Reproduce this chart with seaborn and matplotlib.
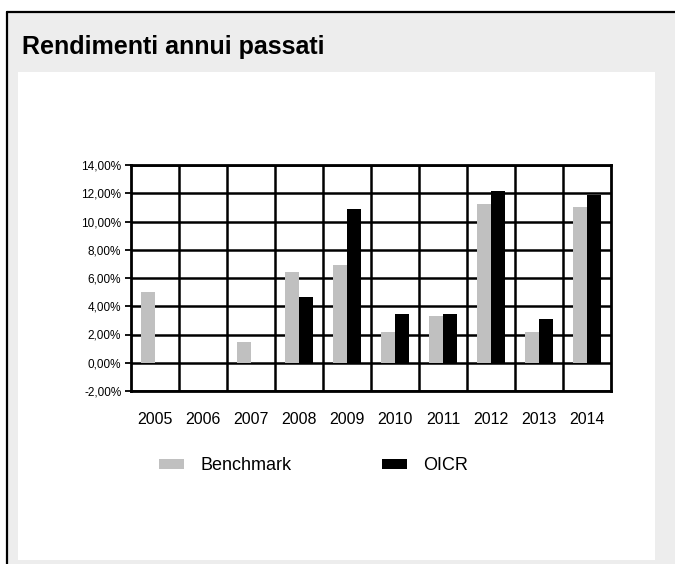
import matplotlib
matplotlib.use("Agg")
import matplotlib.pyplot as plt
from matplotlib.patches import Rectangle
from matplotlib.lines import Line2D
import seaborn as sns
import pandas as pd

years = ["2005", "2006", "2007", "2008", "2009", "2010", "2011", "2012", "2013", "2014"]
benchmark = [5.0, None, 1.5, 6.45, 6.92, 2.15, 3.31, 11.24, 2.15, 11.05]
oicr = [None, None, None, 4.63, 10.88, 3.45, 3.45, 12.18, 3.12, 11.9]
series_names = ["Benchmark", "OICR"]
y_ticks = [-2, 0, 2, 4, 6, 8, 10, 12, 14]
y_tick_labels = ["-2,00%", "0,00%", "2,00%", "4,00%", "6,00%", "8,00%", "10,00%", "12,00%", "14,00%"]
title = "Rendimenti annui passati"

rows = []
for y, b, o in zip(years, benchmark, oicr):
    rows.append({"Anno": y, "Serie": series_names[0], "Valore": b})
    rows.append({"Anno": y, "Serie": series_names[1], "Valore": o})
df = pd.DataFrame(rows)

sns.set_theme(style="white")
plt.rcParams["font.family"] = ["Liberation Sans", "DejaVu Sans"]
plt.rcParams["text.color"] = "black"
plt.rcParams["xtick.color"] = "black"
plt.rcParams["ytick.color"] = "black"
plt.rcParams["xtick.labelcolor"] = "black"
plt.rcParams["ytick.labelcolor"] = "black"

W, H = 675, 564
fig = plt.figure(figsize=(W / 100, H / 100), dpi=100, facecolor="white")

def fx(px):
    return px / W

def fy(py):
    return 1 - py / H

# grey panel with top/left border
fig.patches.append(Rectangle((fx(7), 0), 1 - fx(7), fy(12), transform=fig.transFigure,
                             facecolor="#EDEDED", edgecolor="none", zorder=-3))
fig.patches.append(Rectangle((fx(18), fy(560)), fx(655) - fx(18), fy(72) - fy(560),
                             transform=fig.transFigure, facecolor="white", edgecolor="none", zorder=-2))
fig.lines.append(Line2D([fx(7), 1], [fy(12), fy(12)], transform=fig.transFigure, color="black", lw=1.6, zorder=-1))
fig.lines.append(Line2D([fx(7), fx(7)], [fy(12), 0], transform=fig.transFigure, color="black", lw=1.6, zorder=-1))

fig.text(fx(22), fy(54), title, fontsize=18, fontweight="bold", ha="left", va="baseline", color="black")

ax = fig.add_axes([fx(131), fy(391), fx(611) - fx(131), fy(165) - fy(391)])
ax.set_facecolor("white")
sns.barplot(data=df, x="Anno", y="Valore", hue="Serie", order=years, hue_order=series_names,
            palette=["#C0C0C0", "#000000"], width=0.6, gap=0, linewidth=0, saturation=1,
            ax=ax, zorder=3)

ax.set_xlim(-0.5, len(years) - 0.5)
ax.set_ylim(-2, 14)
ax.set_yticks(y_ticks)
ax.set_yticklabels(y_tick_labels, fontsize=8.5, color="black")
ax.set_xticks(range(len(years)))
ax.set_xticklabels(years, fontsize=11.5, color="black")
ax.set_xticks([i + 0.5 for i in range(len(years) - 1)], minor=True)
ax.tick_params(axis="x", which="both", length=0, pad=15)
ax.tick_params(axis="y", which="major", length=4, width=1.3, color="black", pad=3, left=True)
ax.grid(False)
ax.grid(True, which="minor", axis="x", color="black", lw=1.8, zorder=1)
ax.grid(True, which="major", axis="y", color="black", lw=1.8, zorder=1)
ax.set_axisbelow(True)
for s in ax.spines.values():
    s.set_color("black")
    s.set_linewidth(2)
    s.set_visible(True)
ax.set_xlabel("")
ax.set_ylabel("")

handles, labels = ax.get_legend_handles_labels()
ax.get_legend().remove()
leg = fig.legend(handles, labels, loc="center left", bbox_to_anchor=(fx(159), fy(466)),
                 ncol=2, frameon=False, fontsize=13, handlelength=1.4, handleheight=0.45,
                 handletextpad=0.9, columnspacing=5.0, borderpad=0, borderaxespad=0,
                 labelcolor="black")

fig.savefig("out.png", dpi=100, facecolor="white")
